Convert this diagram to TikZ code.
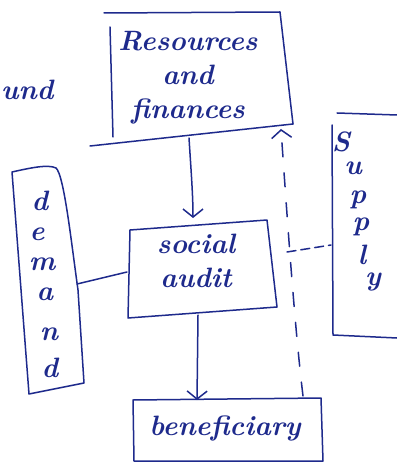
\documentclass[tikz,border=0pt]{standalone}
\usetikzlibrary{arrows.meta}
\definecolor{ink}{RGB}{30,42,140}
\begin{document}
\begin{tikzpicture}[x=1pt,y=-1pt,
  pen/.style={draw=ink, line width=1.5pt, line cap=round, line join=round},
  hand/.style={text=ink, font=\fontsize{28}{34}\selectfont\bfseries\itshape, inner sep=0pt, align=center},
  letter/.style={text=ink, font=\fontsize{28}{28}\selectfont\bfseries\itshape,
    inner sep=0pt, anchor=base, text height=0.5em, text depth=0.1em},
  barb/.style={-{Straight Barb[length=8pt,width=20pt,line width=1.5pt]}},
  gaps/.style={dash pattern=on 14pt off 16pt},
  shortgaps/.style={dash pattern=on 9pt off 5pt}]
\useasboundingbox[fill=white] (0,0) rectangle (396,462);

% Resources and finances box (left side stands apart from top and bottom)
\draw[pen] (104,13) -- (280,12) -- (293,124);
\draw[pen] (90,146) -- (293,124);
\draw[pen] (110,27) -- (113,137);
\node[hand] (restext) at (188,78) {Resources\\and\\finances};

% social audit box
\draw[pen] (130,230) -- (267,220) -- (277,307) -- (128,318) -- cycle;
\node[hand] (soctext) at (196,261) {social\\audit};

% demand box, letters stacked one under the other
\draw[pen] (12,172) .. controls (30,168) and (48,164) .. (56,168)
  .. controls (64,175) and (71,240) .. (78,290) -- (84,383) -- (29,394) -- cycle;
\node[letter] (dm1) at (40,210) {d};
\node[letter] (dm2) at (37,240) {e};
\node[letter] (dm3) at (42,270) {m};
\node[letter] (dm4) at (45,300) {a};
\node[letter] (dm5) at (49,340) {n};
\node[letter] (dm6) at (50,377) {d};

% supply box, open to the right, letters drifting rightwards
\draw[pen] (337,113) -- (397,115);
\draw[pen] (332,125) -- (333,335) -- (397,338);
\node[letter] (su1) at (341,152) {S};
\node[letter] (su2) at (353,175) {u};
\node[letter] (su3) at (358,204) {p};
\node[letter] (su4) at (361,230) {p};
\node[letter] (su5) at (362,264) {l};
\node[letter] (su6) at (373,285) {y};

% beneficiary box
\draw[pen] (133,400) -- (321,398) -- (323,461) -- (134,461) -- cycle;
\node[hand] (bentext) at (225,428) {beneficiary};

% word at the left margin
\node[hand, anchor=base west] (und) at (1,100) {und};

% connector end points on the box edges
\coordinate (resBottom) at (189,138);
\coordinate (socTop) at (193,218);
\coordinate (socBottom) at (198,315);
\coordinate (benTop) at (197,400);
\coordinate (benTopRight) at (303,396);
\coordinate (resCorner) at (281,129);
\coordinate (socLeft) at (127,272);
\coordinate (demRight) at (77,284);
\coordinate (dashStart) at (287,252);
\coordinate (supLeft) at (331,245);

% connectors
\draw[pen, barb] (resBottom) .. controls (191,170) and (193,195) .. (socTop);
\draw[pen, barb] (socBottom) -- (benTop);
\draw[pen, barb, gaps] (benTopRight) .. controls (295,330) and (288,230) .. (resCorner);
\draw[pen] (demRight) -- (socLeft);
\draw[pen, shortgaps] (dashStart) -- (supLeft);
\end{tikzpicture}
\end{document}
